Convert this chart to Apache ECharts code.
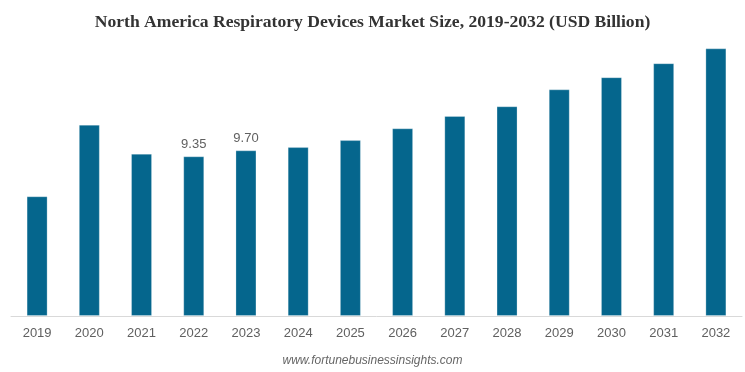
<!DOCTYPE html>
<html>
<head>
<meta charset="utf-8">
<script src="https://cdn.jsdelivr.net/npm/echarts@6/dist/echarts.min.js"></script>
<style>html,body{margin:0;padding:0;background:#fff}#c{width:745px;height:372px}</style>
</head>
<body>
<div id="c"></div>
<script>
const categories = ['2019','2020','2021','2022','2023','2024','2025','2026','2027','2028','2029','2030','2031','2032'];
const values = [7.01, 11.20, 9.50, 9.35, 9.70, 9.89, 10.30, 10.99, 11.71, 12.28, 13.27, 13.98, 14.80, 15.67];
const labeledYears = ['2022','2023'];
const titleText = 'North America Respiratory Devices Market Size, 2019-2032 (USD Billion)';
const sourceText = 'www.fortunebusinessinsights.com';

const chart = echarts.init(document.getElementById('c'), null, {renderer:'canvas'});
chart.setOption({
  animation: false,
  backgroundColor: '#ffffff',
  title: {
    text: titleText,
    left: 'center',
    top: 8,
    textStyle: {fontFamily: 'Liberation Serif', fontWeight: 'bold', fontSize: 17.6, color: '#333333'}
  },
  graphic: [{
    type: 'text',
    left: 'center',
    top: 355,
    style: {text: sourceText, font: 'italic 12px "Liberation Sans"', fill: '#666666'}
  }],
  grid: {left: 11, right: 3, top: 40, bottom: 56},
  xAxis: {
    type: 'category',
    data: categories,
    axisLine: {lineStyle: {color: '#d9d9d9', width: 1}},
    axisTick: {show: false},
    axisLabel: {color: '#606060', fontSize: 13, fontFamily: 'Liberation Sans', margin: 11}
  },
  yAxis: {
    type: 'value',
    min: 0,
    max: 16.16,
    show: false,
    splitLine: {show: false}
  },
  series: [{
    type: 'bar',
    barWidth: 21,
    data: values.map((v, i) => ({
      value: v,
      label: {show: labeledYears.includes(categories[i])}
    })),
    itemStyle: {color: '#05668D', borderColor: 'rgba(255,255,255,0.25)', borderWidth: 1},
    label: {
      position: 'top',
      distance: 5,
      color: '#606060',
      fontSize: 13,
      fontFamily: 'Liberation Sans',
      formatter: p => p.value.toFixed(2)
    }
  }]
});
</script>
</body>
</html>
